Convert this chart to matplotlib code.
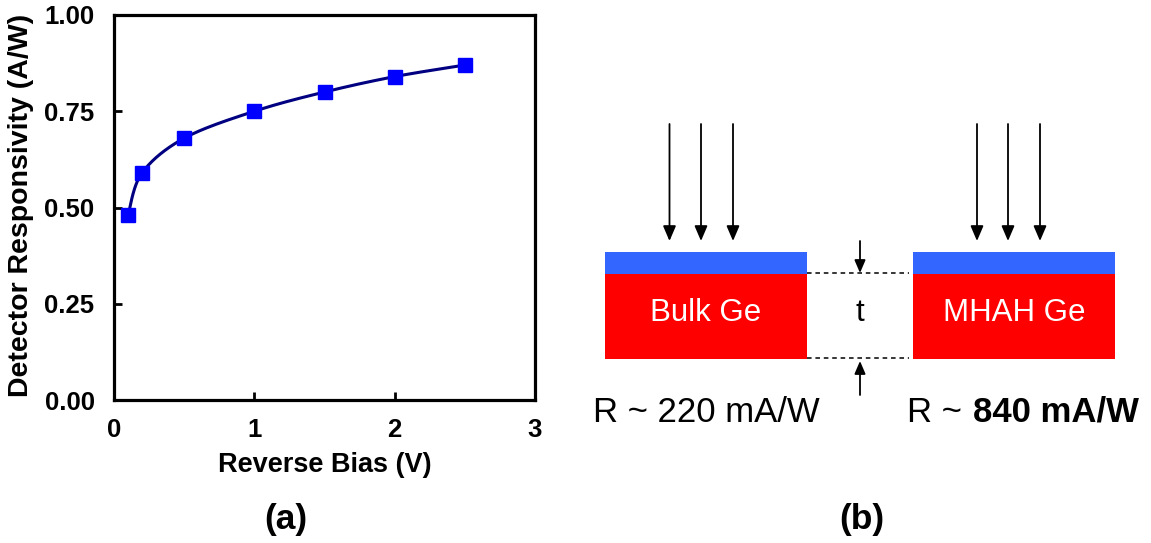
import numpy as np
import matplotlib
matplotlib.use("Agg")
import matplotlib.pyplot as plt
from matplotlib.patches import Rectangle

plt.rcParams['font.family'] = ['Liberation Sans', 'DejaVu Sans']

# Responsivity vs reverse bias
bias_v = [0.1, 0.2, 0.5, 1.0, 1.5, 2.0, 2.5]
responsivity = [0.48, 0.59, 0.68, 0.75, 0.80, 0.84, 0.87]
x_ticks = [0, 1, 2, 3]
y_ticks = [0.00, 0.25, 0.50, 0.75, 1.00]

# Device comparison panel
device_names = ["Bulk Ge", "MHAH Ge"]
device_resp = [220, 840]  # mA/W
wavelength_nm = 1550

W, H = 1151, 543
fig = plt.figure(figsize=(W / 100, H / 100), dpi=100)

# overlay in pixel coordinates for the schematic and panel labels
ov = fig.add_axes([0, 0, 1, 1])
ov.set_xlim(0, W)
ov.set_ylim(H, 0)
ov.axis('off')

ax = fig.add_axes([114 / W, (H - 400) / H, (535 - 114) / W, (400 - 15) / H])


def catmull_rom(px, py, n=30):
    pts = np.column_stack([px, py])
    pts = np.vstack([pts[0], pts, pts[-1]])
    out = []
    for i in range(1, len(pts) - 2):
        p0, p1, p2, p3 = pts[i - 1], pts[i], pts[i + 1], pts[i + 2]
        t = np.linspace(0, 1, n)[:, None]
        seg = 0.5 * ((2 * p1) + (-p0 + p2) * t + (2 * p0 - 5 * p1 + 4 * p2 - p3) * t ** 2
                     + (-p0 + 3 * p1 - 3 * p2 + p3) * t ** 3)
        out.append(seg)
    out = np.vstack(out)
    return out[:, 0], out[:, 1]


# smooth the connecting line in a pixel-like aspect so the curve bends naturally
sx, sy = 140.0, 385.0
cx, cy = catmull_rom(np.array(bias_v) * sx, np.array(responsivity) * sy)
ax.plot(cx / sx, cy / sy, color='#000080', lw=2.2, zorder=2)
ax.plot(bias_v, responsivity, ls='none', marker='s', ms=9.5, color='#0000FF',
        mec='#0000FF', zorder=3)

ax.set_xlim(0, 3)
ax.set_ylim(0, 1)
ax.set_xticks(x_ticks)
ax.set_yticks(y_ticks)
ax.set_xticklabels([str(v) for v in x_ticks], fontsize=18.5, fontweight='bold')
ax.set_yticklabels([f"{v:.2f}" for v in y_ticks], fontsize=18.5, fontweight='bold')
ax.tick_params(direction='in', length=6, width=2, pad=13)
ax.tick_params(axis='y', pad=14)
ax.tick_params(top=False, right=False)
for s in ax.spines.values():
    s.set_linewidth(2.3)

ax.set_xlabel("Reverse Bias (V)", fontsize=19.5, fontweight='bold', va='baseline')
ax.xaxis.set_label_coords(325, 472, transform=ov.transData)
ax.set_ylabel("Detector Responsivity (A/W)", fontsize=20.5, fontweight='bold',
              va='center', ha='center')
ax.yaxis.set_label_coords(21, 205, transform=ov.transData)

ov.text(228, 205, "\u03bb", color='#FF0000', fontsize=29, ha='left', va='baseline')
ov.text(253, 205, f" = {wavelength_nm} nm", color='#FF0000', fontsize=29,
        fontweight='bold', ha='left', va='baseline')

# schematic: two stacked slabs
slab_left = [605, 913]
slab_w = 202
for xl, name in zip(slab_left, device_names):
    ov.add_patch(Rectangle((xl, 252), slab_w, 21.5, facecolor='#3366FF', edgecolor='none'))
    ov.add_patch(Rectangle((xl, 273.5), slab_w, 85, facecolor='#FF0000', edgecolor='none'))
    ov.text(xl + slab_w / 2, 313, name, color='white', fontsize=22.5,
            ha='center', va='center')

# incoming light
arrow_style = dict(arrowstyle='-|>,head_length=0.7,head_width=0.3', color='black',
                   lw=1.3, mutation_scale=13, shrinkA=0, shrinkB=0)
for xa in [669.5, 701, 733, 977, 1008, 1040]:
    ov.annotate('', xy=(xa, 241), xytext=(xa, 124), arrowprops=arrow_style)

# thickness marker
for yd in [273, 357.5]:
    ov.plot([807, 909], [yd, yd], color='black', lw=1.1, ls=(0, (3, 2.5)))
small_arrow = dict(arrowstyle='-|>,head_length=0.7,head_width=0.3', color='black',
                   lw=1.3, mutation_scale=11, shrinkA=0, shrinkB=0)
ov.annotate('', xy=(860, 273), xytext=(860, 241), arrowprops=small_arrow)
ov.annotate('', xy=(860, 361), xytext=(860, 395), arrowprops=small_arrow)
ov.text(860, 313, "t", color='black', fontsize=22.5, ha='center', va='center')

ov.text(593, 421.5, f"R ~ {device_resp[0]} mA/W", fontsize=25, ha='left', va='baseline')
ov.text(907, 421.5, "R ~ ", fontsize=25, ha='left', va='baseline')
ov.text(973, 421.5, f"{device_resp[1]} mA/W", fontsize=25, fontweight='bold',
        ha='left', va='baseline')

ov.text(286, 520, "(a)", fontsize=25.5, fontweight='bold', ha='center', va='center')
ov.text(861.5, 520, "(b)", fontsize=25.5, fontweight='bold', ha='center', va='center')

fig.savefig("out.png", dpi=100)
